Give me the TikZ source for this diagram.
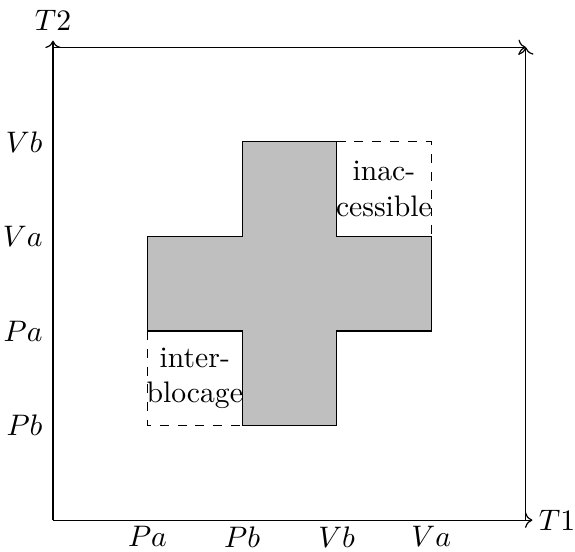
\documentclass[tikz,border=0pt]{standalone}
\usepackage{amsmath, amssymb}
\usepackage{tikz}
\usetikzlibrary{positioning, arrows.meta, calc}

\begin{document}
\begin{tikzpicture}[x=1.12cm, y=1.12cm,
      axisarrow/.style={->},
      lockzone/.style={fill=gray!50, draw=black},
      emptyzone/.style={dashed},
      zonetext/.style={align=center, inner sep=1pt},
      ticklabel/.style={inner sep=2pt}
    ]
      \useasboundingbox (-0.56,-0.33) rectangle (5.52,5.5);

      \coordinate (o) at (0,0);
      \coordinate (x1) at (5.07,0);
      \coordinate (y1) at (0,5.07);
      \coordinate (xr) at (5,0);
      \coordinate (yt) at (0,5);
      \coordinate (xy) at (5,5);

      % forbidden region
      \draw[lockzone] (2,1) -- (3,1) -- (3,2) -- (4,2) -- (4,3) -- (3,3) -- (3,4)
        -- (2,4) -- (2,3) -- (1,3) -- (1,2) -- (2,2) -- cycle;
      \draw[emptyzone] (1,2) -- (1,1) -- (2,1);
      \draw[emptyzone] (3,4) -- (4,4) -- (4,3);

      \node[zonetext] (dl) at (1.5,1.5) {inter-\\blocage};
      \node[zonetext] (ia) at (3.5,3.5) {inac-\\cessible};

      % axes
      \draw[axisarrow] (o) -- (x1);
      \draw[axisarrow] (o) -- (y1);
      \draw[axisarrow] (yt) -- (xy);
      \draw[axisarrow] (xr) -- (xy);
      \node[ticklabel, right=0pt of x1] (t1) {$T1$};
      \node[above=0pt of y1] (t2) {$T2$};

      \node[ticklabel, below] (pa1) at (1,0) {$Pa$};
      \node[ticklabel, below] (pb1) at (2,0) {$Pb$};
      \node[ticklabel, below] (vb1) at (3,0) {$Vb$};
      \node[ticklabel, below] (va1) at (4,0) {$Va$};

      \node[left] (pb2) at (0,1) {$Pb$};
      \node[left] (pa2) at (0,2) {$Pa$};
      \node[left] (va2) at (0,3) {$Va$};
      \node[left] (vb2) at (0,4) {$Vb$};
    \end{tikzpicture}
\end{document}
